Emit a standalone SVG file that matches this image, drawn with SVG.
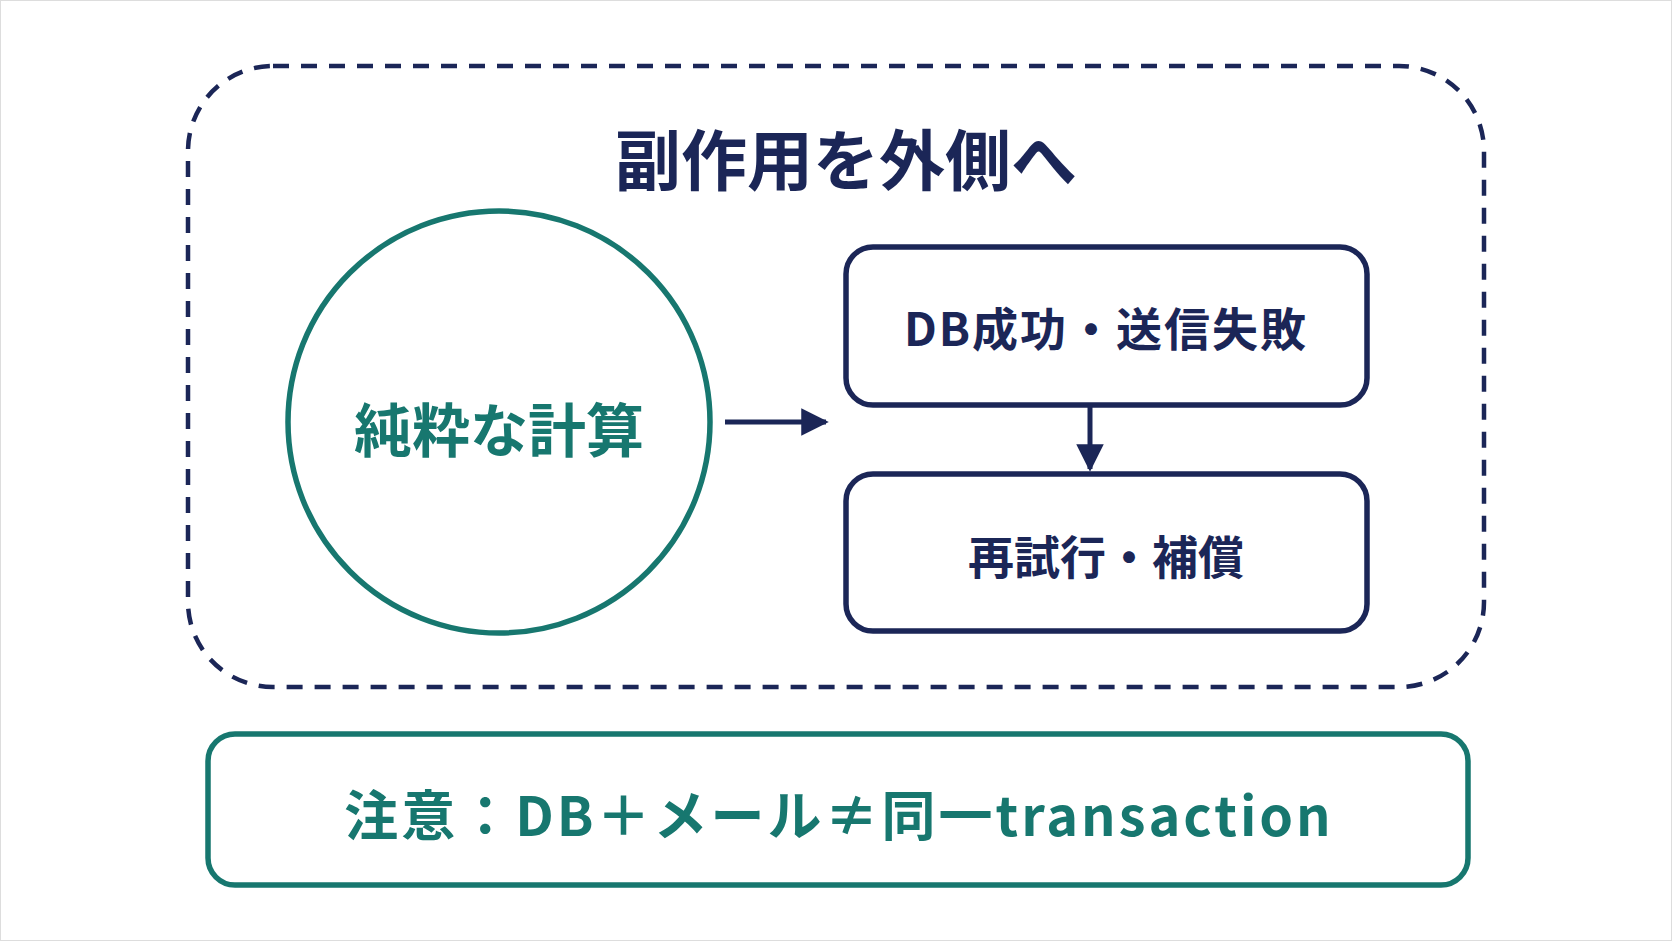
<svg xmlns="http://www.w3.org/2000/svg" width="1672" height="941" viewBox="0 0 1672 941">
<defs>
<style>
.navy{fill:none;stroke:#1b2657;stroke-width:5.5}
.teal{fill:none;stroke:#17776f;stroke-width:5.5}
text{font-family:"Noto Sans CJK JP","Noto Sans",sans-serif;font-weight:700;text-anchor:middle;dominant-baseline:central}
.tn{fill:#1b2657}.tt{fill:#17776f}
</style>
<marker id="ah" viewBox="0 0 10 10" refX="9" refY="5" markerWidth="5.5" markerHeight="5.5" orient="auto" markerUnits="strokeWidth"><path d="M0,0L10,5L0,10z" fill="#1b2657"/></marker>
</defs>
<rect x="0" y="0" width="1672" height="941" fill="#fff" stroke="#ddd" stroke-width="2"/>
<g id="container">
<rect x="188" y="66" width="1296" height="621" rx="85" fill="none" stroke="#1b2657" stroke-width="4.5" stroke-dasharray="16 12"/>
<text class="tn" x="846" y="156" font-size="66">副作用を外側へ</text>
</g>
<g id="pure">
<circle class="teal" cx="499" cy="422" r="211"/>
<text class="tt" x="499" y="427" font-size="58">純粋な計算</text>
</g>
<g id="db">
<rect class="navy" x="846" y="247" width="521" height="158" rx="27"/>
<text class="tn" x="1106" y="326" font-size="46" letter-spacing="2">DB成功・送信失敗</text>
</g>
<g id="retry">
<rect class="navy" x="846" y="474" width="521" height="157" rx="27"/>
<text class="tn" x="1106" y="554" font-size="46">再試行・補償</text>
</g>
<g id="note">
<rect class="teal" x="208" y="734" width="1260" height="151" rx="27"/>
<text class="tt" x="839" y="812" font-size="54" letter-spacing="3">注意：DB＋メール≠同一transaction</text>
</g>
<g id="connectors" stroke="#1b2657" stroke-width="5" fill="none">
<line x1="725" y1="422" x2="826" y2="422" marker-end="url(#ah)"/>
<line x1="1090" y1="405" x2="1090" y2="469" marker-end="url(#ah)"/>
</g>
</svg>
